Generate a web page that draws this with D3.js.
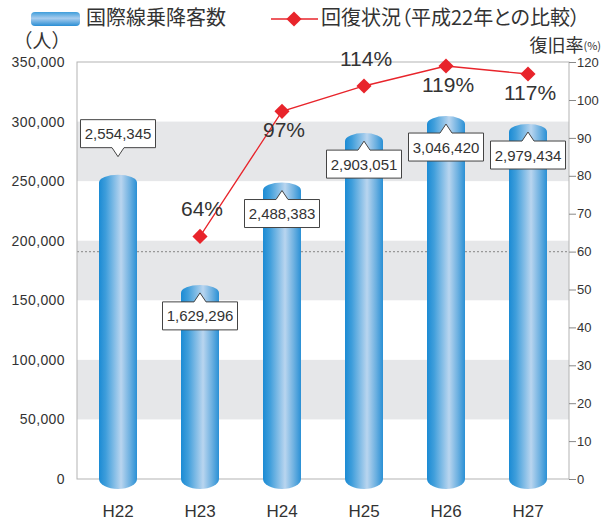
<!DOCTYPE html>
<html>
<head>
<meta charset="utf-8">
<script src="https://cdn.jsdelivr.net/npm/d3@7"></script>
<style>
  body { margin: 0; background: #fff; }
  svg text { font-family: "Liberation Sans", Arial, "Noto Sans CJK JP", sans-serif; fill: #333; }
  .jp { font-family: "Noto Sans CJK JP", sans-serif; font-feature-settings: "palt"; }
  .jpw { font-family: "Noto Sans CJK JP", sans-serif; }
</style>
</head>
<body>
<div id="chart"></div>
<script>
// data
var years = ["H22", "H23", "H24", "H25", "H26", "H27"];
var passengers = [2554345, 1629296, 2488383, 2903051, 3046420, 2979434];
var recovery = [null, 64, 97, 114, 119, 117];            // % vs H22
var leftTicks = [0, 500000, 1000000, 1500000, 2000000, 2500000, 3000000, 3500000];
var leftTickLabels = ["0", "50,000", "100,000", "150,000", "200,000", "250,000", "300,000", "350,000"];
var rightTicks = [0, 10, 20, 30, 40, 50, 60, 70, 80, 90, 100, 120];
var refLine = 60;
var valueLabelSide = ["above", "below", "below", "below", "below", "below"];
var pctLabelSide = [null, "above", "below", "above", "below", "below"];

var W = 608, H = 521;
var plot = {left: 77, right: 569, top: 62, bottom: 479};

var svg = d3.select("#chart").append("svg")
    .attr("width", W).attr("height", H);

//////// SCALES ////////
var x = d3.scaleBand().domain(years).range([plot.left, plot.right]).padding(0);
var y = d3.scaleLinear().domain([0, 3500000]).range([plot.bottom, plot.top]);
// the source draws its right axis unevenly above 100%
var yR = d3.scaleLinear().domain([0, 100, 114, 120]).range([plot.bottom, 100, 86, plot.top]);

//////// GRADIENTS ////////
var defs = svg.append("defs");
var grad = defs.append("linearGradient").attr("id", "cyl").attr("x1", "0").attr("x2", "1").attr("y1", "0").attr("y2", "0");
[[0, "#1b8bd4"], [0.18, "#3f9edb"], [0.58, "#b9d5ef"], [0.82, "#6aafe0"], [1, "#2a90d5"]].forEach(function(s) {
    grad.append("stop").attr("offset", s[0]).attr("stop-color", s[1]);
});
var lg = defs.append("linearGradient").attr("id", "legcyl").attr("x1", "0").attr("x2", "0").attr("y1", "0").attr("y2", "1");
[[0, "#3f9edb"], [0.45, "#a9cdee"], [1, "#2a8ed4"]].forEach(function(s) {
    lg.append("stop").attr("offset", s[0]).attr("stop-color", s[1]);
});

//////// BACKGROUND BANDS ////////
var bands = [];
for (var i = 1; i < leftTicks.length - 1; i += 2) bands.push([leftTicks[i], leftTicks[i + 1]]);
svg.append("g").selectAll("rect").data(bands).enter().append("rect")
    .attr("x", plot.left).attr("width", plot.right - plot.left)
    .attr("y", function(d) { return y(d[1]); })
    .attr("height", function(d) { return y(d[0]) - y(d[1]); })
    .attr("fill", "#e6e7e9");

// reference dotted line
svg.append("line")
    .attr("x1", plot.left).attr("x2", plot.right)
    .attr("y1", yR(refLine)).attr("y2", yR(refLine))
    .attr("stroke", "#999").attr("stroke-width", 1.2).attr("stroke-dasharray", "2,2");

// frame
svg.append("rect")
    .attr("x", plot.left).attr("y", plot.top)
    .attr("width", plot.right - plot.left).attr("height", plot.bottom - plot.top)
    .attr("fill", "none").attr("stroke", "#b3b3b3").attr("stroke-width", 1);

//////// AXES ////////
var gl = svg.append("g").attr("transform", "translate(" + plot.left + ",0)")
    .call(d3.axisLeft(y).tickValues(leftTicks).tickSize(0).tickPadding(12)
        .tickFormat(function(d, i) { return leftTickLabels[i]; }));
gl.select(".domain").remove();
gl.selectAll("text").style("font-size", "14px").attr("letter-spacing", "0.4");

var gr = svg.append("g").attr("transform", "translate(" + plot.right + ",0)")
    .call(d3.axisRight(yR).tickValues(rightTicks).tickSize(7).tickPadding(1));
gr.select(".domain").remove();
gr.selectAll("line").attr("stroke", "#888");
gr.selectAll("text").style("font-size", "13px");

var gx = svg.append("g").attr("transform", "translate(0," + plot.bottom + ")")
    .call(d3.axisBottom(x).tickSize(0).tickPadding(26));
gx.select(".domain").remove();
gx.selectAll("text").style("font-size", "17px");

//////// BARS ////////
var bw = 38, ryTop = 8, ryBot = 10;
function cylinder(d, i) {
    var cx = x(years[i]) + x.bandwidth() / 2,
        x0 = cx - bw / 2, x1 = cx + bw / 2, r = bw / 2,
        yt = y(d), yb = y(0);
    return "M" + x0 + "," + (yt + ryTop) +
        "A" + r + "," + ryTop + " 0 0 1 " + x1 + "," + (yt + ryTop) +
        "L" + x1 + "," + yb +
        "A" + r + "," + ryBot + " 0 0 1 " + x0 + "," + yb + "Z";
}
svg.append("g").selectAll("path").data(passengers).enter().append("path")
    .attr("d", cylinder).attr("fill", "url(#cyl)");

//////// VALUE CALLOUTS ////////
var boxW = 75, boxH = 28, ptrH = 9, ptrW = 6;
var callouts = svg.append("g").selectAll("g").data(passengers).enter().append("g");
callouts.append("path")
    .attr("d", function(d, i) {
        var cx = x(years[i]) + x.bandwidth() / 2, bx0 = cx - boxW / 2, bx1 = cx + boxW / 2, ty, top, bot;
        if (valueLabelSide[i] === "below") {
            ty = y(d) + 8; top = ty + ptrH; bot = top + boxH;
            return "M" + bx0 + "," + top + "L" + (cx - ptrW) + "," + top + "L" + cx + "," + ty +
                "L" + (cx + ptrW) + "," + top + "L" + bx1 + "," + top + "L" + bx1 + "," + bot +
                "L" + bx0 + "," + bot + "Z";
        }
        ty = y(d) - 18; bot = ty - ptrH; top = bot - boxH;
        return "M" + bx0 + "," + top + "L" + bx1 + "," + top + "L" + bx1 + "," + bot +
            "L" + (cx + ptrW) + "," + bot + "L" + cx + "," + ty + "L" + (cx - ptrW) + "," + bot +
            "L" + bx0 + "," + bot + "Z";
    })
    .attr("fill", "#fff").attr("stroke", "#444").attr("stroke-width", 1);
callouts.append("text")
    .attr("x", function(d, i) { return x(years[i]) + x.bandwidth() / 2; })
    .attr("y", function(d, i) {
        return valueLabelSide[i] === "below" ? y(d) + 8 + ptrH + boxH / 2 + 5.5 : y(d) - 18 - ptrH - boxH / 2 + 5.5;
    })
    .attr("text-anchor", "middle").style("font-size", "15px")
    .text(function(d) { return d3.format(",")(d); });

//////// RECOVERY LINE ////////
var pts = recovery.map(function(v, i) { return {year: years[i], v: v, side: pctLabelSide[i]}; })
    .filter(function(d) { return d.v !== null; });
var line = d3.line()
    .x(function(d) { return x(d.year) + x.bandwidth() / 2; })
    .y(function(d) { return yR(d.v); });
svg.append("path").datum(pts).attr("d", line)
    .attr("fill", "none").attr("stroke", "#e8242b").attr("stroke-width", 1.3);
var diamond = d3.symbol().type(d3.symbolSquare).size(115);
svg.append("g").selectAll("path").data(pts).enter().append("path")
    .attr("d", diamond)
    .attr("transform", function(d) { return "translate(" + (x(d.year) + x.bandwidth() / 2) + "," + yR(d.v) + ") rotate(45)"; })
    .attr("fill", "#e8242b");
svg.append("g").selectAll("text").data(pts).enter().append("text")
    .attr("x", function(d) { return x(d.year) + x.bandwidth() / 2 + 2; })
    .attr("y", function(d) { return d.side === "above" ? yR(d.v) - 20 : yR(d.v) + 26; })
    .attr("text-anchor", "middle").style("font-size", "21px")
    .text(function(d) { return d.v + "%"; });

//////// LEGEND & TITLES ////////
svg.append("rect").attr("x", 31).attr("y", 12).attr("width", 49).attr("height", 14).attr("rx", 4)
    .attr("fill", "url(#legcyl)");
svg.append("text").attr("class", "jp").attr("x", 86).attr("y", 25).style("font-size", "20px").text("国際線乗降客数");
svg.append("line").attr("x1", 271).attr("x2", 318).attr("y1", 19).attr("y2", 19)
    .attr("stroke", "#e8242b").attr("stroke-width", 1.3);
svg.append("path").attr("d", diamond).attr("transform", "translate(294,19) rotate(45)").attr("fill", "#e8242b");
svg.append("text").attr("class", "jp").attr("x", 321).attr("y", 25).style("font-size", "20px").text("回復状況（平成22年との比較）");
svg.append("text").attr("class", "jpw").attr("x", 42).attr("y", 48).attr("text-anchor", "middle").style("font-size", "19px").text("（人）");
var rt = svg.append("text").attr("class", "jp").attr("x", 601).attr("y", 52).attr("text-anchor", "end");
rt.append("tspan").style("font-size", "18px").text("復旧率");
rt.append("tspan").style("font-size", "11px").attr("dy", -2).text("(%)");
</script>
</body>
</html>
